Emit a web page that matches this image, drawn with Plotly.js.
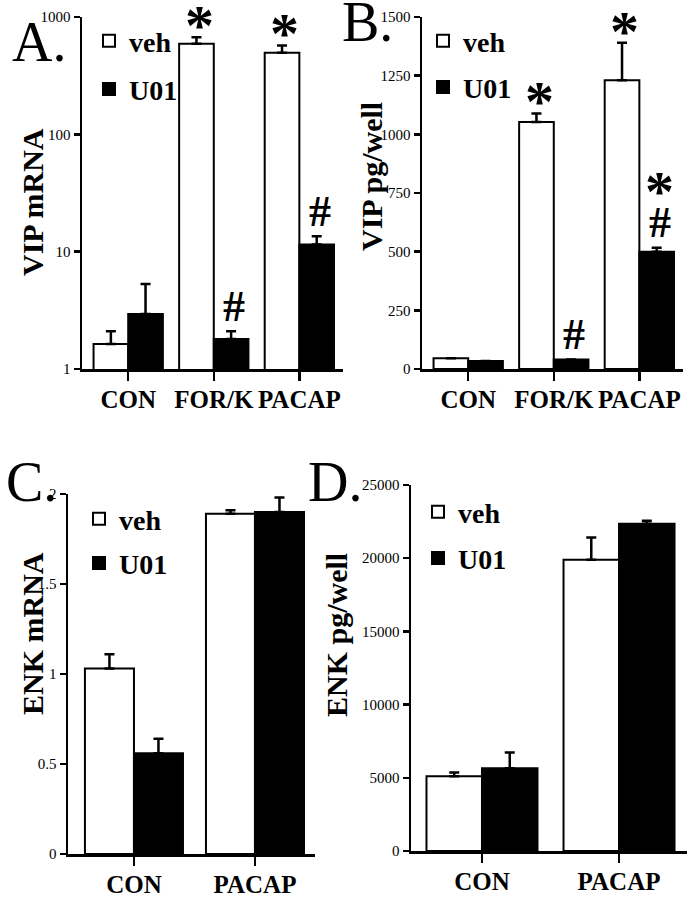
<!DOCTYPE html>
<html>
<head>
<meta charset="utf-8">
<script src="https://cdn.plot.ly/plotly-3.0.1.min.js"></script>
<style>html,body{margin:0;padding:0;background:#fff;}#chart{width:693px;height:899px;}</style>
</head>
<body>
<div id="chart"></div>
<script>
// ---------- data ----------
const catsVIP = ['CON', 'FOR/K', 'PACAP'];
const catsENK = ['CON', 'PACAP'];

const vipMrnaVeh    = [1.63, 591, 496];
const vipMrnaVehErr = [0.47, 82, 76];
const vipMrnaU01    = [2.94, 1.8, 11.5];
const vipMrnaU01Err = [2.36, 0.3, 2.0];

const vipPgVeh    = [46, 1053, 1231];
const vipPgVehErr = [0, 36, 159];
const vipPgU01    = [34, 41, 500];
const vipPgU01Err = [0, 0, 17];

const enkMrnaVeh    = [1.03, 1.89];
const enkMrnaVehErr = [0.08, 0.02];
const enkMrnaU01    = [0.56, 1.90];
const enkMrnaU01Err = [0.08, 0.08];

const enkPgVeh    = [5110, 19900];
const enkPgVehErr = [250, 1510];
const enkPgU01    = [5660, 22350];
const enkPgU01Err = [1070, 200];

// significance marks (stacked bottom -> top)
const sigVipMrnaVeh = ['', '*', '*'];
const sigVipMrnaU01 = ['', '#', '#'];
const sigVipPgVeh   = ['', '*', '*'];
const sigVipPgU01   = ['', '#', '#*'];

const seriesNames = ['veh', 'U01'];
const yTickVipMrna = [1, 10, 100, 1000];

// ---------- helpers ----------
const W = 693, H = 899;
const px = x => x / W;
const py = y => 1 - y / H;
const FONT = 'Liberation Serif';

function barTrace(cats, vals, errs, name, fill, ax, legend, group) {
  return {
    type: 'bar', x: cats, y: vals, name: name,
    xaxis: 'x' + ax, yaxis: 'y' + ax, legend: legend, legendgroup: group,
    marker: {color: fill, line: {color: '#000', width: 2}},
    error_y: {type: 'data', symmetric: false, array: errs, arrayminus: errs.map(() => 0),
              color: '#000', thickness: 2.5, width: 5, visible: true}
  };
}

const traces = [
  barTrace(catsVIP, vipMrnaVeh, vipMrnaVehErr, seriesNames[0], '#fff', '', 'legend', 'a1'),
  barTrace(catsVIP, vipMrnaU01, vipMrnaU01Err, seriesNames[1], '#000', '', 'legend', 'a2'),
  barTrace(catsVIP, vipPgVeh, vipPgVehErr, seriesNames[0], '#fff', '2', 'legend2', 'b1'),
  barTrace(catsVIP, vipPgU01, vipPgU01Err, seriesNames[1], '#000', '2', 'legend2', 'b2'),
  barTrace(catsENK, enkMrnaVeh, enkMrnaVehErr, seriesNames[0], '#fff', '3', 'legend3', 'c1'),
  barTrace(catsENK, enkMrnaU01, enkMrnaU01Err, seriesNames[1], '#000', '3', 'legend3', 'c2'),
  barTrace(catsENK, enkPgVeh, enkPgVehErr, seriesNames[0], '#fff', '4', 'legend4', 'd1'),
  barTrace(catsENK, enkPgU01, enkPgU01Err, seriesNames[1], '#000', '4', 'legend4', 'd2')
];

function xAxis(l, r, range, anchor) {
  return {
    domain: [px(l), px(r)], anchor: anchor, type: 'category', range: range,
    showline: true, linecolor: '#000', linewidth: 2.5, showgrid: false, zeroline: false,
    ticks: 'outside', ticklen: 9, tickwidth: 2.5, tickcolor: '#000', ticklabelstandoff: -3,
    tickfont: {family: FONT, size: 25, color: '#000', weight: 'bold'}, fixedrange: true
  };
}
function yAxis(top, bottom, anchor, extra) {
  return Object.assign({
    domain: [py(bottom), py(top)], anchor: anchor,
    showline: true, linecolor: '#000', linewidth: 2.5, showgrid: false, zeroline: false,
    ticks: 'outside', ticklen: 6, tickwidth: 2.5, tickcolor: '#000',
    tickfont: {family: FONT, size: 15, color: '#000'}, fixedrange: true
  }, extra);
}

// significance annotations
const glyph = {'*': {size: 58, off: 28, h: 25, gap: 5}, '#': {size: 44, off: 10.5, h: 31, gap: 9}};
const annotations = [];
function addMarks(cats, vals, errs, marks, ax, side, barPx, isLog) {
  cats.forEach((c, i) => {
    const m = marks[i];
    if (!m) return;
    const top = vals[i] + errs[i];
    let above = glyph[m[0]].gap;
    for (const ch of m) {
      const g = glyph[ch];
      annotations.push({
        xref: 'x' + ax, yref: 'y' + ax, x: c, y: isLog ? Math.log10(top) : top,
        xanchor: 'center', yanchor: 'bottom', showarrow: false,
        xshift: side * barPx / 2 + 3, yshift: above - g.off,
        text: ch, font: {family: FONT, size: g.size, color: '#000', weight: 'bold'}
      });
      above += g.h + 10;
    }
  });
}
addMarks(catsVIP, vipMrnaVeh, vipMrnaVehErr, sigVipMrnaVeh, '', -1, 35, true);
addMarks(catsVIP, vipMrnaU01, vipMrnaU01Err, sigVipMrnaU01, '', 1, 35, true);
addMarks(catsVIP, vipPgVeh, vipPgVehErr, sigVipPgVeh, '2', -1, 35, false);
addMarks(catsVIP, vipPgU01, vipPgU01Err, sigVipPgU01, '2', 1, 35, false);

// panel letters and axis titles
function paperText(text, x, y, size, opts) {
  annotations.push(Object.assign({
    xref: 'paper', yref: 'paper', x: px(x), y: py(y), showarrow: false,
    xanchor: 'center', yanchor: 'middle',
    text: text, font: {family: FONT, size: size, color: '#000'}
  }, opts));
}
paperText('A.', 10, 42, 56, {xanchor: 'left'});
paperText('B.', 340, 22, 56, {xanchor: 'left'});
paperText('C.', 4, 482, 56, {xanchor: 'left'});
paperText('D.', 306, 482, 56, {xanchor: 'left'});

const titleFont = {family: FONT, size: 30, color: '#000', weight: 'bold'};
paperText('VIP mRNA', 33, 202, 30, {textangle: -90, font: titleFont});
paperText('VIP pg/well', 372, 177, 30, {textangle: -90, font: titleFont});
paperText('ENK mRNA', 32, 634, 30, {textangle: -90, font: titleFont});
paperText('ENK pg/well', 336, 635, 30, {textangle: -90, font: titleFont});

function legendAt(x, y, gap) {
  return {
    x: px(x), y: py(y), xanchor: 'left', yanchor: 'top', bgcolor: 'rgba(0,0,0,0)',
    borderwidth: 0, traceorder: 'grouped', tracegroupgap: gap,
    font: {family: FONT, size: 28, color: '#000', weight: 'bold'}
  };
}

const layout = {
  width: W, height: H, margin: {l: 0, r: 0, t: 0, b: 0},
  paper_bgcolor: '#fff', plot_bgcolor: 'rgba(0,0,0,0)',
  barmode: 'group', bargap: 0.19, bargroupgap: 0,
  showlegend: true,
  font: {family: FONT, color: '#000'},
  xaxis: xAxis(82, 343, [-0.54, 2.51], 'y'),
  yaxis: yAxis(17, 369, 'x', {type: 'log', range: [0, 3], tickvals: yTickVipMrna,
                                ticktext: yTickVipMrna.map(String)}),
  xaxis2: xAxis(422, 683, [-0.54, 2.51], 'y2'),
  yaxis2: yAxis(17, 369, 'x2', {range: [0, 1500], dtick: 250, tickformat: 'd'}),
  xaxis3: xAxis(68, 315, [-0.545, 1.496], 'y3'),
  yaxis3: yAxis(494, 854, 'x3', {range: [0, 2], dtick: 0.5}),
  xaxis4: xAxis(411, 687, [-0.518, 1.496], 'y4'),
  yaxis4: yAxis(485, 851, 'x4', {range: [0, 25000], dtick: 5000, tickformat: 'd'}),
  legend:  legendAt(89, 16, 9),
  legend2: legendAt(423, 16, 7),
  legend3: legendAt(79, 494, 5),
  legend4: legendAt(418, 487, 7),
  annotations: annotations
};

Plotly.newPlot('chart', traces, layout, {displayModeBar: false, staticPlot: true});
</script>
</body>
</html>
